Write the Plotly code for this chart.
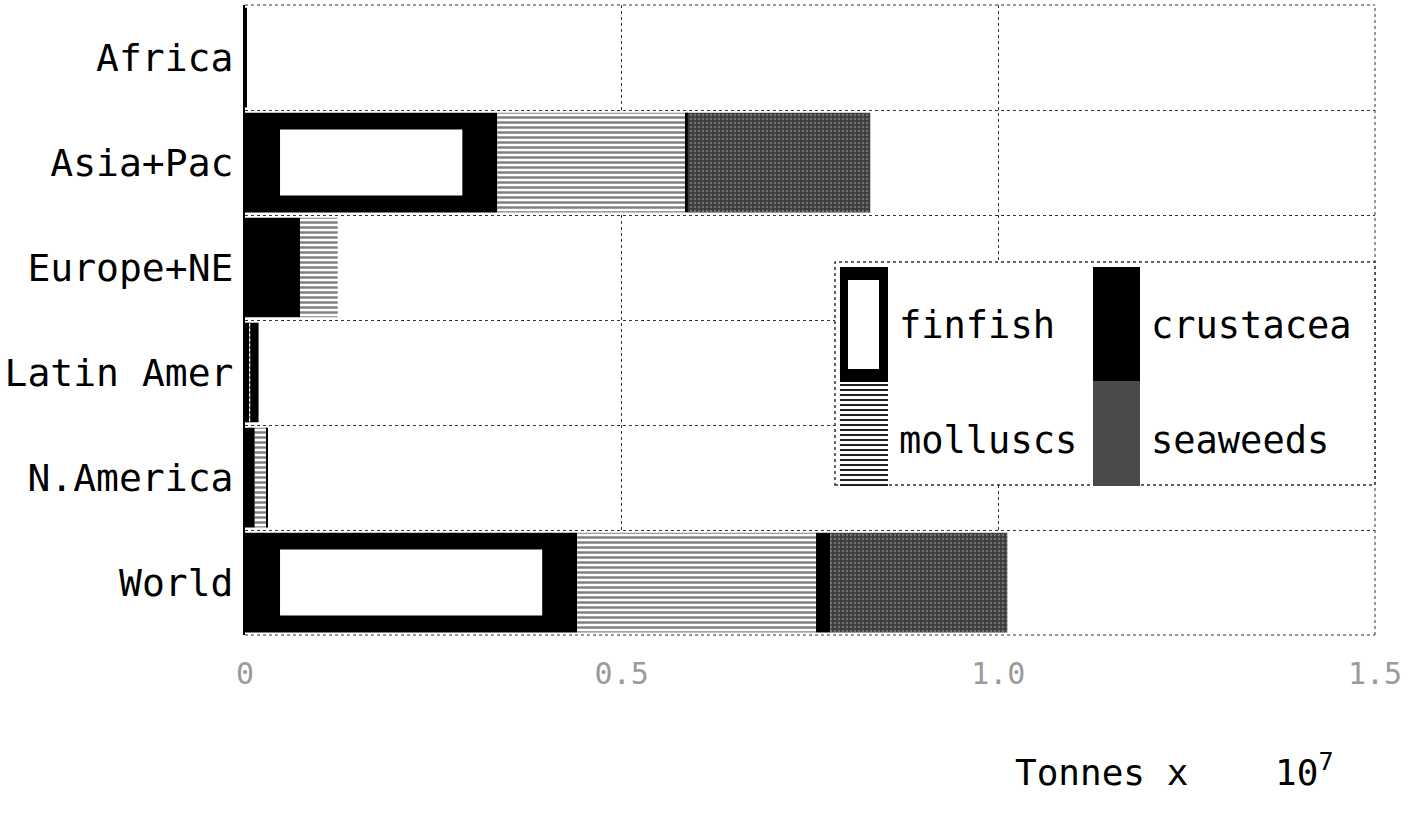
import numpy as np
import plotly.graph_objects as go

# ---- data (tonnes x 10^7) ----
regions = ["Africa", "Asia+Pac", "Europe+NE", "Latin Amer", "N.America", "World"]
finfish   = [0.002, 0.335, 0.073, 0.006, 0.013, 0.441]
molluscs  = [0.000, 0.249, 0.050, 0.001, 0.016, 0.317]
crustacea = [0.000, 0.004, 0.000, 0.011, 0.001, 0.019]
seaweeds  = [0.000, 0.242, 0.000, 0.000, 0.000, 0.235]
x_ticks = [0, 0.5, 1.0, 1.5]
x_tick_labels = ["0", "0.5", "1.0", "1.5"]

# ---- layout geometry ----
W, H = 1413, 813
ML, MR, MT, MB = 245, 38, 5, 178
PW, PH = W - ML - MR, H - MT - MB
FONT = "DejaVu Sans Mono"

def px(x):  # pixel -> paper x
    return (x - ML) / PW

def py(y):  # pixel -> paper y
    return (H - MB - y) / PH

f = np.array(finfish)
m = np.array(molluscs)
c = np.array(crustacea)
s = np.array(seaweeds)
base_m = f
base_c = f + m
base_s = f + m + c

border_x = 0.0465  # thick black frame of finfish bars (data units)
inner = np.clip(f - 2 * border_x, 0, None)

BW = 0.95
fig = go.Figure()
fig.add_trace(go.Bar(name="finfish", y=regions, x=f, base=np.zeros_like(f), orientation="h",
                     width=BW, marker=dict(color="black", line=dict(width=0)), showlegend=False))
fig.add_trace(go.Bar(name="finfish", y=regions, x=inner, base=np.where(inner > 0, border_x, 0),
                     orientation="h", width=0.63,
                     marker=dict(color="white", line=dict(width=0)), showlegend=False))
fig.add_trace(go.Bar(name="molluscs", y=regions, x=m, base=base_m, orientation="h", width=BW,
                     marker=dict(color="white", line=dict(width=0),
                                 pattern=dict(shape="-", fgcolor="black", bgcolor="white",
                                              size=5, solidity=0.5, fillmode="overlay")),
                     showlegend=False))
fig.add_trace(go.Bar(name="crustacea", y=regions, x=c, base=base_c, orientation="h", width=BW,
                     marker=dict(color="black", line=dict(width=0)), showlegend=False))
fig.add_trace(go.Bar(name="seaweeds", y=regions, x=s, base=base_s, orientation="h", width=BW,
                     marker=dict(color="#4a4a4a", line=dict(width=0),
                                 pattern=dict(shape=".", fgcolor="#a8a8a8", bgcolor="#3c3c3c",
                                              size=4, solidity=0.3, fillmode="overlay")),
                     showlegend=False))

shapes = []
# dotted frame lines (top, bottom, right) like the original grid
for (x0, y0, x1, y1) in [(0, 1, 1, 1), (0, 0, 1, 0), (1, 0, 1, 1)]:
    shapes.append(dict(type="line", xref="paper", yref="paper", x0=x0, y0=y0, x1=x1, y1=y1,
                       line=dict(color="#333", width=1, dash="dot"), layer="below"))

# ---- hand-built legend (large swatches like the original) ----
shapes.append(dict(type="rect", xref="paper", yref="paper", x0=px(835), x1=px(1375),
                   y0=py(485), y1=py(262), fillcolor="white",
                   line=dict(color="#333", width=1.5, dash="dot"), layer="above"))
# finfish swatch
shapes.append(dict(type="rect", xref="paper", yref="paper", x0=px(840), x1=px(888),
                   y0=py(382), y1=py(267), fillcolor="black", line=dict(width=0), layer="above"))
shapes.append(dict(type="rect", xref="paper", yref="paper", x0=px(848), x1=px(879),
                   y0=py(369), y1=py(280), fillcolor="white", line=dict(width=0), layer="above"))
# molluscs swatch (horizontal lines)
path = ""
for yy in range(385, 486, 5):
    path += f"M{px(840)},{py(yy)} L{px(888)},{py(yy)} "
shapes.append(dict(type="path", xref="paper", yref="paper", path=path,
                   line=dict(color="#222", width=2.2), layer="above"))
# crustacea swatch
shapes.append(dict(type="rect", xref="paper", yref="paper", x0=px(1093), x1=px(1140),
                   y0=py(381), y1=py(267), fillcolor="black", line=dict(width=0), layer="above"))
# seaweeds swatch
shapes.append(dict(type="rect", xref="paper", yref="paper", x0=px(1093), x1=px(1140),
                   y0=py(486), y1=py(381), fillcolor="#4a4a4a", line=dict(width=0), layer="above"))

annotations = []
for label, xx, yy in [("finfish", 897, 325), ("crustacea", 1149, 325),
                      ("molluscs", 897, 440), ("seaweeds", 1149, 440)]:
    annotations.append(dict(text=label, xref="paper", yref="paper", x=px(xx), y=py(yy),
                            xanchor="left", yanchor="middle", showarrow=False,
                            font=dict(family=FONT, size=37, color="black")))
annotations.append(dict(text="Tonnes x\u00a0\u00a0\u00a0\u00a010<sup>7</sup>", xref="paper",
                        yref="paper", x=px(1013), y=py(770), xanchor="left", yanchor="middle",
                        showarrow=False, font=dict(family=FONT, size=36, color="black")))

fig.update_layout(
    width=W, height=H,
    margin=dict(l=ML, r=MR, t=MT, b=MB),
    paper_bgcolor="white", plot_bgcolor="white",
    barmode="overlay", bargap=0.05,
    shapes=shapes, annotations=annotations,
    showlegend=False,
    xaxis=dict(range=[0, 1.5], tickvals=x_ticks, ticktext=x_tick_labels,
               showgrid=True, gridcolor="#333", griddash="dot", gridwidth=1,
               zeroline=False, showline=False, ticks="", ticklabelstandoff=18,
               tickfont=dict(family=FONT, size=30, color="#9a9a9a")),
    yaxis=dict(type="category", categoryorder="array", categoryarray=regions,
               autorange="reversed", tickson="boundaries",
               showgrid=True, gridcolor="#333", griddash="dot", gridwidth=1,
               showline=True, linecolor="black", linewidth=2, ticks="",
               ticklabelstandoff=2,
               tickfont=dict(family=FONT, size=38, color="black")),
)

fig.write_html("out.html", config={"displayModeBar": False},
               post_script="document.body.style.margin='0';document.body.style.overflow='hidden';")
